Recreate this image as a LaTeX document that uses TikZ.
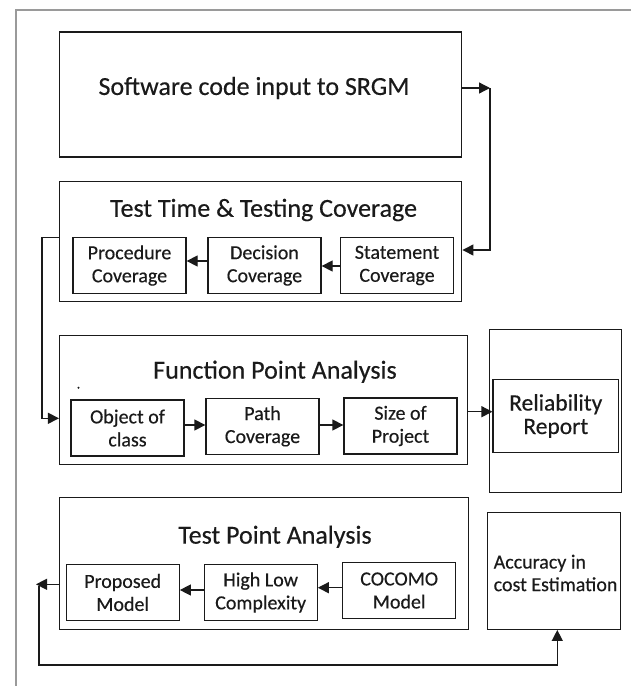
\documentclass[tikz,border=0pt]{standalone}
\usepackage{fontspec}
\setmainfont{Carlito}[FakeBold=0.35]
\usetikzlibrary{arrows.meta}
\definecolor{ink}{HTML}{1A1A1A}
\definecolor{frame}{HTML}{9A9A9A}
\begin{document}
\begin{tikzpicture}[x=1pt,y=-1pt,
  box/.style={draw=ink, line width=1.3pt, rectangle, inner sep=0pt},
  grp/.style={box},
  sub/.style={box, minimum width=113pt, minimum height=56pt, align=center, text=ink,
    font=\fontsize{20}{23}\selectfont},
  ttl/.style={text=ink, font=\fontsize{26}{30}\selectfont, inner sep=0pt},
  arr/.style={draw=ink, line width=1.3pt, -{Triangle[length=11pt,width=11pt]}},
  ln/.style={draw=ink, line width=1.3pt}]
\useasboundingbox (0,0) rectangle (631,686);
\clip (0,0) rectangle (631,686);
\fill[white] (0,0) rectangle (631,686);
% outer frame
\draw[frame, line width=2pt] (16,700) -- (16,10) -- (640,10);
% box 1
\node[box, minimum width=402pt, minimum height=125pt] (b1) at (260.8,94.5) {};
\node[ttl] (b1t) at (254,88) {Software code input to SRGM};
% test time group
\node[grp, minimum width=402pt, minimum height=120pt] (tt) at (260.8,241.7) {};
\node[ttl] (ttt) at (263.6,210) {Test Time \& Testing Coverage};
\node[sub] (proc) at (129.5,265.5) {Procedure\\Coverage};
\node[sub] (dec) at (264.5,265.5) {Decision\\Coverage};
\node[sub] (stat) at (397,265.5) {Statement\\Coverage};
% function point group
\node[grp, minimum width=408pt, minimum height=129pt] (fpa) at (263.6,399.7) {};
\node[ttl] (fpat) at (275,371.7) {Function Point Analysis};
\node[fill=ink, circle, inner sep=0pt, minimum size=2.2pt] (dot) at (78.5,387.7) {};
\node[sub] (obj) at (127.5,428) {Object of\\class};
\node[sub] (path) at (262.5,426.3) {Path\\Coverage};
\node[sub] (size) at (400.5,426) {Size of\\Project};
% reliability
\node[box, minimum width=132pt, minimum height=163pt] (relo) at (555.8,410.8) {};
\node[box, minimum width=125.5pt, minimum height=73.4pt, align=center, text=ink,
  font=\fontsize{23.5}{23.5}\selectfont] (rel) at (555.8,416) {Reliability\\Report};
% test point group
\node[grp, minimum width=409pt, minimum height=132pt] (tpa) at (264.2,563.3) {};
\node[ttl] (tpat) at (275,536.7) {Test Point Analysis};
\node[sub] (prop) at (122.7,592.5) {Proposed\\Model};
\node[sub] (hl) at (260.7,592.5) {High Low\\Complexity};
\node[sub] (coc) at (399.2,590.5) {COCOMO\\Model};
% accuracy
\node[box, minimum width=133pt, minimum height=116.6pt] (acc) at (554.1,571) {};
\node[anchor=west, align=left, text=ink, inner sep=0pt,
  font=\fontsize{20}{22.6}\selectfont] (acct) at (493.5,573) {Accuracy in\\cost Estimation};
% connectors
\coordinate (c1) at (490,88);
\coordinate (c1b) at (490,250);
\draw[arr] (b1.east |- c1) -- (c1);
\draw[arr] (c1) -- (c1b) -- (tt.east |- c1b);
\coordinate (y266) at (0,266);
\coordinate (y261) at (0,261);
\draw[arr] (stat.west |- y266) -- (dec.east |- y266);
\draw[arr] (dec.west |- y261) -- (proc.east |- y261);
\coordinate (c2) at (42,237.7);
\coordinate (c2b) at (42,418.3);
\draw[arr] (tt.west |- c2) -- (c2) -- (c2b) -- (fpa.west |- c2b);
\coordinate (y425) at (0,425);
\draw[arr] (obj.east |- y425) -- (path.west |- y425);
\draw[arr] (path.east |- y425) -- (size.west |- y425);
\coordinate (y412) at (0,411.7);
\draw[arr] (fpa.east |- y412) -- (rel.west |- y412);
\coordinate (y588) at (0,587.7);
\coordinate (y590) at (0,590);
\draw[arr] (coc.west |- y588) -- (hl.east |- y588);
\draw[arr] (hl.west |- y590) -- (prop.east |- y590);
\coordinate (c3) at (36,584.3);
\draw[arr] (tpa.west |- c3) -- (c3);
\coordinate (c3b) at (39,586);
\coordinate (c4) at (39,665);
\coordinate (c5) at (557.3,665);
\draw[arr] (c3b) -- (c4) -- (c5) -- (c5 |- acc.south);
\end{tikzpicture}
\end{document}
